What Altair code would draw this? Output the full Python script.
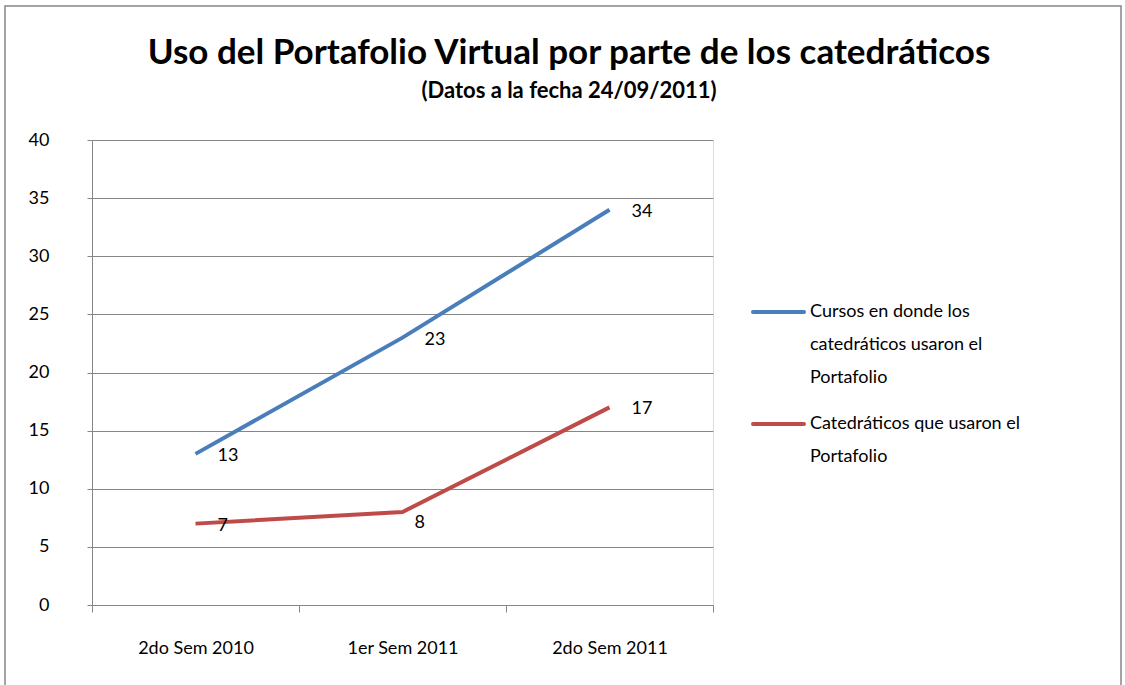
import altair as alt
import pandas as pd

title_text = "Uso del Portafolio Virtual por parte de los catedráticos"
subtitle_text = "(Datos a la fecha 24/09/2011)"
categories = ["2do Sem 2010", "1er Sem 2011", "2do Sem 2011"]
series_names = [
    "Cursos en donde los\ncatedráticos usaron el\nPortafolio",
    "Catedráticos que usaron el\nPortafolio",
]
cursos = [13, 23, 34]
catedraticos = [7, 8, 17]
colors = ["#4A7EBB", "#BE4B48"]

rows = []
for c, v in zip(categories, cursos):
    rows.append({"cat": c, "serie": series_names[0], "val": v})
for c, v in zip(categories, catedraticos):
    rows.append({"cat": c, "serie": series_names[1], "val": v})
df = pd.DataFrame(rows)

FONT = "Lato"
FS = 18
W, H = 621, 465

x = alt.X("cat:N", sort=categories, title=None,
          scale=alt.Scale(paddingInner=0, paddingOuter=0),
          axis=alt.Axis(labelAngle=0, labelFontSize=FS, labelFont=FONT, labelColor="#000000",
                        labelPadding=27, tickBand="extent", tickSize=7, tickColor="#868686",
                        domainColor="#868686", grid=False))
y = alt.Y("val:Q", title=None,
          scale=alt.Scale(domain=[0, 40], nice=False),
          axis=alt.Axis(values=list(range(0, 41, 5)), labelFontSize=FS, labelFont=FONT,
                        labelColor="#000000", labelPadding=38, tickSize=5, tickColor="#868686",
                        domainColor="#868686", gridColor="#868686", gridWidth=1))

color_scale = alt.Scale(domain=series_names, range=colors)

lines = alt.Chart(df).mark_line(strokeWidth=4).encode(
    x=x, y=y,
    color=alt.Color("serie:N", sort=series_names, scale=color_scale, legend=None),
)

labels = alt.Chart(df).mark_text(align="left", baseline="middle", dx=22, dy=2,
                                 fontSize=FS, font=FONT, color="#000000").transform_filter(
    "datum.val != 8").encode(x=alt.X("cat:N", sort=categories), y="val:Q", text="val:Q")
labels8 = alt.Chart(df).mark_text(align="left", baseline="middle", dx=12, dy=11,
                                  fontSize=FS, font=FONT, color="#000000").transform_filter(
    "datum.val == 8").encode(x=alt.X("cat:N", sort=categories), y="val:Q", text="val:Q")

# legend (drawn as layers so the label line spacing can match)
legend_layers = []
for i, name in enumerate(series_names):
    ly = 172 + i * 112
    src = alt.Data(values=[{"serie": name}])
    legend_layers.append(
        alt.Chart(src).mark_rule(strokeWidth=4, strokeCap="round").encode(
            x=alt.value(661), x2=alt.value(712), y=alt.value(ly),
            color=alt.Color("serie:N", scale=color_scale, legend=None)))
    legend_layers.append(
        alt.Chart(src).mark_text(align="left", baseline="middle", lineBreak="\n", lineHeight=33,
                                 fontSize=FS, font=FONT, color="#000000").encode(
            x=alt.value(718), y=alt.value(ly), text="serie:N"))

border = alt.Chart(alt.Data(values=[{}])).mark_rect(fill=None, stroke="#868686", strokeWidth=1.5).encode(
    x=alt.value(-87), x2=alt.value(W + 408), y=alt.value(-134), y2=alt.value(H + 100))

title = alt.Chart(alt.Data(values=[{"t": title_text}])).mark_text(
    align="center", baseline="alphabetic", fontSize=35, font=FONT, fontWeight="bold", color="#000000"
).encode(x=alt.value(477), y=alt.value(-76), text="t:N")
subtitle = alt.Chart(alt.Data(values=[{"t": subtitle_text}])).mark_text(
    align="center", baseline="alphabetic", fontSize=22, font=FONT, fontWeight="bold", color="#000000"
).encode(x=alt.value(477), y=alt.value(-42), text="t:N")

chart = alt.layer(border, title, subtitle, lines, labels, labels8, *legend_layers).properties(
    width=W, height=H,
    autosize=alt.AutoSizeParams(type="none"),
    padding={"left": 92, "top": 140, "right": 412, "bottom": 80},
).configure_view(stroke=None).configure(background="#ffffff")

chart.save("out.html", embed_options={"renderer": "svg", "actions": False})
